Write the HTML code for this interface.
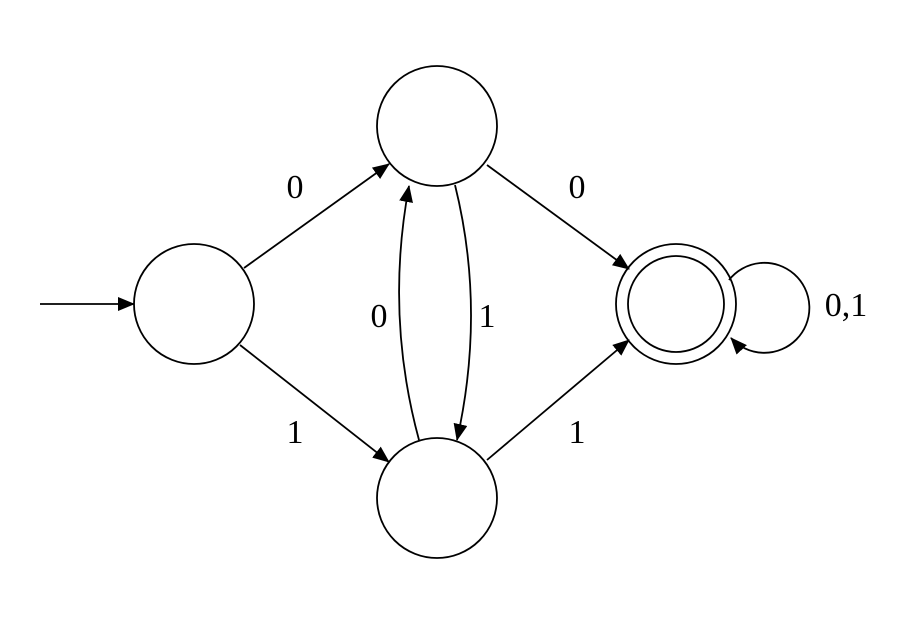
<!DOCTYPE html>
<html><head><style>body{margin:0;background:#fff}</style></head><body>
<svg width="916" height="620" xmlns="http://www.w3.org/2000/svg">
<defs><marker id="a" markerWidth="18" markerHeight="14" refX="16" refY="7" orient="auto" markerUnits="userSpaceOnUse"><path d="M0,0 L17,7 L0,14 z" fill="#000"/></marker></defs>
<g fill="none" stroke="#000" stroke-width="1.8">
<circle cx="194" cy="304" r="60"/>
<circle cx="437" cy="126" r="60"/>
<circle cx="437" cy="498" r="60"/>
<circle cx="676" cy="304" r="60"/>
<circle cx="676" cy="304" r="48"/>
<line x1="40" y1="304" x2="134" y2="304" marker-end="url(#a)"/>
<line x1="244" y1="268" x2="389" y2="164" marker-end="url(#a)"/>
<line x1="240" y1="345" x2="389" y2="462" marker-end="url(#a)"/>
<line x1="487" y1="165" x2="629" y2="269" marker-end="url(#a)"/>
<line x1="487" y1="460" x2="629" y2="340" marker-end="url(#a)"/>
<path d="M419,440 Q385,315 409,186" marker-end="url(#a)"/>
<path d="M455,185 Q486,310 457,440" marker-end="url(#a)"/>
<path d="M729,280 A45,45 0 1 1 731,338" marker-end="url(#a)"/>
</g>
<g font-family="'Liberation Serif', serif" font-size="34" fill="#000" text-anchor="middle">
<text x="295" y="198">0</text>
<text x="295" y="443">1</text>
<text x="577" y="198">0</text>
<text x="577" y="443">1</text>
<text x="379" y="327">0</text>
<text x="487" y="327">1</text>
<text x="846" y="316">0,1</text>
</g>
</svg>
</body></html>
